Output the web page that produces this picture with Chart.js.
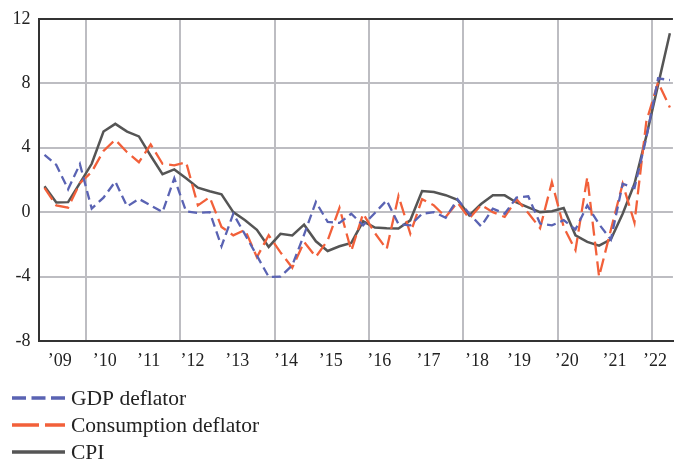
<!DOCTYPE html>
<html><head><meta charset="utf-8">
<script src="https://cdn.jsdelivr.net/npm/chart.js@4"></script>
<style>html,body{margin:0;padding:0;background:#fff;}</style>
</head><body>
<canvas id="c" width="676" height="459"></canvas>
<script>
const firstYear = 2009; // quarterly data, 2009Q1 .. 2022Q2
const gdpDeflator = [3.55, 2.93, 1.42, 2.98, 0.22, 0.9, 1.9, 0.35, 0.82, 0.42, 0.0, 2.1, 0.05, -0.05, 0.0, -2.12,
  -0.1, -1.4, -2.7, -4.02, -4.0, -3.3, -1.4, 0.63, -0.61, -0.67, -0.1, -0.82, -0.05, 0.73, -0.75, -0.82,
  -0.1, 0.0, -0.35, 0.8, -0.1, -0.88, 0.22, -0.1, 0.9, 0.98, -0.71, -0.82, -0.5, -1.08, 0.42, -0.75,
  -1.7, 1.76, 1.5, 4.6, 8.3, 8.2];
const consumptionDeflator = [1.5, 0.42, 0.28, 1.8, 2.5, 3.8, 4.49, 3.72, 3.1, 4.2, 3.0, 2.9, 3.1, 0.42, 0.93, -0.92,
  -1.44, -1.1, -2.8, -1.44, -2.5, -3.45, -1.85, -2.78, -1.75, 0.27, -2.4, -0.1, -1.3, -2.3, 1.0, -1.33,
  0.8, 0.42, -0.3, 0.6, -0.4, 0.45, 0.0, -0.3, 0.8, -0.05, -1.0, 1.86, -0.92, -2.36, 2.17, -4.0,
  -1.1, 1.76, -0.65, 5.6, 8.06, 6.5];
const cpi = [1.6, 0.6, 0.62, 1.8, 3.0, 5.0, 5.48, 5.0, 4.7, 3.5, 2.35, 2.65, 2.1, 1.52, 1.3, 1.1,
  0.0, -0.5, -1.1, -2.16, -1.35, -1.45, -0.78, -1.81, -2.41, -2.12, -1.91, -0.57, -0.96, -1.0, -1.02, -0.51,
  1.31, 1.25, 1.05, 0.77, -0.2, 0.5, 1.04, 1.04, 0.6, 0.3, 0.0, 0.05, 0.25, -1.44, -1.85, -2.08,
  -1.69, -0.1, 1.76, 4.7, 7.9, 11.1];
const seriesNames = ['GDP deflator', 'Consumption deflator', 'CPI'];
const yearTickLabels = ['’09','’10','’11','’12','’13','’14','’15','’16','’17','’18','’19','’20','’21','’22'];
const yearTickPositions = [2009.45, 2010.40, 2011.33, 2012.26, 2013.21, 2014.24, 2015.19, 2016.22, 2017.26, 2018.29, 2019.18, 2020.19, 2021.20, 2022.06];
const gridYears = [2010, 2012, 2014, 2016, 2018, 2020, 2022];
const yTickValues = [-8, -4, 0, 4, 8, 12];

const toPoints = arr => arr.map((v, i) => ({ x: firstYear + (i + 0.5) / 4, y: v }));
const GRID = '#bdbdc2', DARK = '#333333', TEXT = '#222222';
Chart.defaults.font.family = "'Liberation Serif', 'Times New Roman', serif";

const stackedLegend = {
  id: 'stackedLegend',
  afterDraw(chart) {
    const ctx = chart.ctx;
    const top = chart.chartArea.bottom + 57;
    chart.data.datasets.forEach((ds, i) => {
      const y = top + i * 27;
      ctx.save();
      ctx.strokeStyle = ds.borderColor;
      ctx.lineWidth = 3.3;
      ctx.setLineDash(ds.legendDash || []);
      ctx.beginPath(); ctx.moveTo(12, y); ctx.lineTo(65, y); ctx.stroke();
      ctx.setLineDash([]);
      ctx.fillStyle = TEXT;
      ctx.font = "21.5px 'Liberation Serif', serif";
      ctx.textBaseline = 'middle';
      ctx.fillText(ds.label, 71, y + 1);
      ctx.restore();
    });
  }
};

new Chart(document.getElementById('c'), {
  type: 'line',
  data: {
    datasets: [
      { label: seriesNames[0], data: toPoints(gdpDeflator), borderColor: '#5a63b3', borderWidth: 2.3,
        borderDash: [9, 5], legendDash: [14, 5.5], pointRadius: 0, tension: 0, fill: false },
      { label: seriesNames[1], data: toPoints(consumptionDeflator), borderColor: '#f2603a', borderWidth: 2.3,
        borderDash: [14, 6], legendDash: [27, 6], pointRadius: 0, tension: 0, fill: false },
      { label: seriesNames[2], data: toPoints(cpi), borderColor: '#555555', borderWidth: 2.5,
        pointRadius: 0, tension: 0, fill: false }
    ]
  },
  options: {
    responsive: false, animation: false, devicePixelRatio: 1,
    layout: { padding: { top: 18, left: 0, right: 0, bottom: 84 } },
    plugins: { legend: { display: false }, tooltip: { enabled: false } },
    scales: {
      x: {
        type: 'linear', min: 2009, max: 2022.44,
        afterBuildTicks: s => {
          s.ticks = gridYears.map(v => ({ value: v })).concat(yearTickPositions.map(v => ({ value: v })))
            .sort((a, b) => a.value - b.value);
        },
        afterFit: s => { s.height = 34; },
        ticks: {
          autoSkip: false, maxRotation: 0, padding: 9, color: TEXT, font: { size: 18 },
          callback: v => { const k = yearTickPositions.indexOf(v); return k >= 0 ? yearTickLabels[k] : ''; }
        },
        grid: { drawTicks: false, lineWidth: 2,
          color: c => (c.tick && gridYears.includes(c.tick.value)) ? GRID : 'rgba(0,0,0,0)' },
        border: { display: true, color: DARK, width: 2 }
      },
      y: {
        min: -8, max: 12,
        afterBuildTicks: s => { s.ticks = yTickValues.map(v => ({ value: v })); },
        afterFit: s => { s.width = 38.6; },
        ticks: { padding: 8, color: TEXT, font: { size: 18 } },
        grid: { drawTicks: false, lineWidth: 2,
          color: c => { const v = c.tick && c.tick.value; return v === 12 ? DARK : (v === -8 ? 'rgba(0,0,0,0)' : GRID); } },
        border: { display: true, color: DARK, width: 2 }
      }
    }
  },
  plugins: [stackedLegend]
});
</script>
</body></html>
